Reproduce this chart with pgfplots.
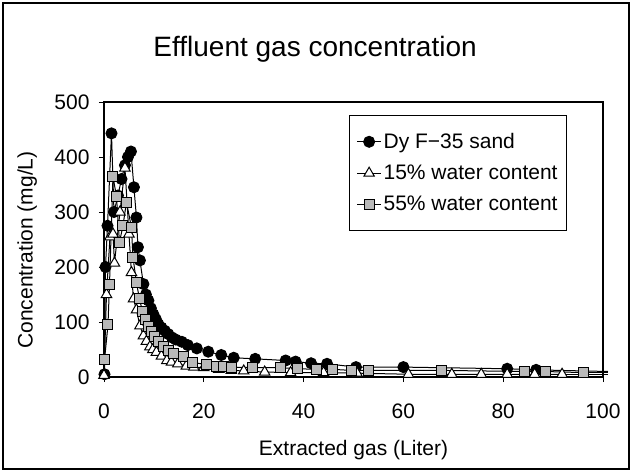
\documentclass[border=0pt]{standalone}
\usepackage{fontspec}
\setmainfont{Liberation Sans}
\usepackage{pgfplots}
\pgfplotsset{compat=1.18}
\begin{document}
\begin{tikzpicture}[x=1pt,y=1pt]
\path[use as bounding box] (0,0) rectangle (632,472);
\draw[line width=1.2pt] (3,3) rectangle (629,469);
\begin{axis}[
  at={(104pt,95pt)}, anchor=south west,
  scale only axis, width=499pt, height=275pt,
  xmin=0, xmax=100, ymin=0, ymax=500,
  xtick={0,20,...,100}, ytick={0,100,...,500},
  tick align=outside, xtick pos=bottom, ytick pos=left,
  major tick length=5pt,
  axis line style={line width=1.4pt},
  tick style={line width=1pt, black},
  /pgf/number format/assume math mode=true,
  ticklabel style={font=\fontsize{21}{24}\selectfont},
  xticklabel style={yshift=-18pt},
  yticklabel style={xshift=-6pt},
  title={Effluent gas concentration},
  title style={at={(axis description cs:0.423,1)}, anchor=base, yshift=40pt, font=\fontsize{28}{30}\selectfont},
  xlabel={Extracted gas (Liter)},
  xlabel style={at={(axis description cs:0.5,-0.265)}, anchor=center, font=\fontsize{21}{24}\selectfont},
  ylabel={Concentration (mg/L)},
  ylabel style={at={(axis description cs:-0.154,0.462)}, anchor=center, font=\fontsize{21}{24}\selectfont},
  legend style={at={(0.928,0.953)}, anchor=north east, draw=black, line width=1pt,
    font=\fontsize{21}{24}\selectfont, row sep=11pt, inner xsep=7pt, inner ysep=16pt},
  legend cell align=left,
  legend image code/.code={\draw[mark repeat=2,mark phase=2] plot coordinates {(0pt,0pt) (12pt,0pt) (24pt,0pt)};},
  clip=false,
]
\addplot[black, line width=1pt, mark=*, mark size=5.5pt, mark options={fill=black}] coordinates {
(0.1,5) (0.3,200) (0.7,275) (1.5,443) (2.0,300) (2.8,330) (3.5,360) (4.2,385) (4.8,400) (5.4,410)
(6.0,345) (6.5,290) (6.8,236) (7.2,212) (7.9,169) (8.4,150) (8.9,139) (9.4,125) (9.9,114) (10.4,105)
(10.9,96) (11.5,90) (12.2,84) (12.9,78) (13.6,72) (14.4,68) (15.6,64) (16.8,58) (18.6,52) (20.9,46)
(23.5,40) (26,35) (30.3,33) (36.4,30) (38.4,28) (41.5,25) (44.7,24) (50.5,18) (60,18) (80.8,15) (86.6,13)};
\addlegendentry{Dy F\textminus35 sand}
\addplot[black, line width=1pt, mark=triangle*, mark size=6pt, mark options={fill=white}] coordinates {
(0,3) (0.5,150) (1.2,255) (1.8,260) (2.1,207) (3.2,300) (4.2,380) (5.0,260) (5.5,190) (5.9,142)
(6.5,122) (7.2,93) (7.9,75) (8.5,65) (9.2,55) (9.8,50) (10.5,45) (11.5,38) (12.6,30) (13.5,27)
(14.8,24) (16.5,20) (18,18) (20,17) (23,14) (25.5,12) (28,11) (32.2,9) (37.4,8) (44,8)
(50.7,7) (61,5) (69.7,5) (75.6,5) (80.8,5) (86.3,5) (91.8,5)};
\addlegendentry{15\% water content}
\addplot[black, line width=1pt, mark=square*, mark size=5pt, mark options={fill=gray!55}] coordinates {
(0.1,31) (0.8,95) (1.1,168) (1.8,365) (2.5,328) (3.1,245) (3.8,275) (4.5,318) (5.5,272) (5.8,218)
(6.5,172) (7.1,142) (7.7,120) (8.3,105) (8.9,92) (9.5,82) (10.2,73) (11,64) (12,56) (13,49)
(14,43) (15.9,37) (17.7,27) (20.6,22) (22.5,20) (23.9,19) (25.5,18) (29.8,17) (35.3,17) (38.8,15)
(42.6,14) (45.7,14) (49.5,12) (53,12) (67.6,12) (84.2,10) (88.4,10) (96,8)};
\addlegendentry{55\% water content}
\addplot[black, line width=1pt, forget plot] coordinates {(86.6,13) (101,10)};
\addplot[black, line width=1pt, forget plot] coordinates {(91.8,5) (101,5)};
\addplot[black, line width=1pt, forget plot] coordinates {(96,8) (101,8)};
\end{axis}
\end{tikzpicture}
\end{document}
